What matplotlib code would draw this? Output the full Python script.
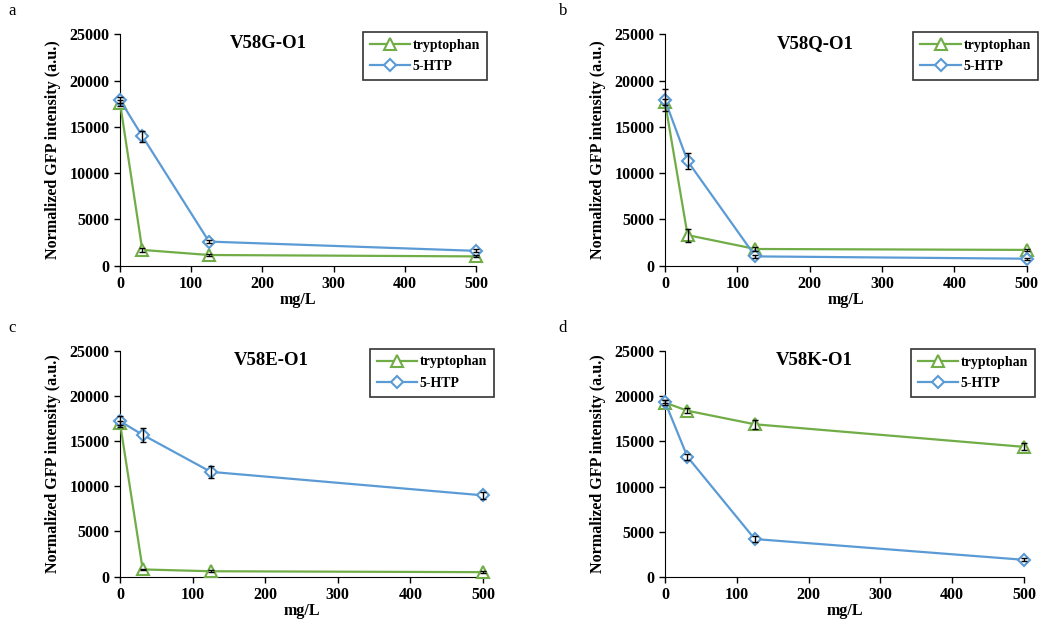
import matplotlib
matplotlib.use("Agg")
import matplotlib.pyplot as plt
from matplotlib.lines import Line2D

plt.rcParams['font.family'] = ['Liberation Serif', 'DejaVu Serif']

conc = [0, 31.25, 125, 500]
titles = ["V58G-O1", "V58Q-O1", "V58E-O1", "V58K-O1"]
letters = ["a", "b", "c", "d"]

trp_a = [17600, 1700, 1150, 1000]
htp_a = [17900, 14000, 2600, 1600]
trp_a_err = [300, 200, 100, 100]
htp_a_err = [300, 600, 200, 150]

trp_b = [17700, 3300, 1800, 1700]
htp_b = [17900, 11300, 1000, 750]
trp_b_err = [300, 700, 200, 150]
htp_b_err = [1200, 900, 200, 100]

trp_c = [17000, 800, 600, 500]
htp_c = [17200, 15700, 11600, 9000]
trp_c_err = [200, 100, 100, 100]
htp_c_err = [600, 800, 700, 400]

trp_d = [19300, 18400, 16900, 14400]
htp_d = [19400, 13300, 4200, 1900]
trp_d_err = [300, 300, 500, 400]
htp_d_err = [200, 300, 300, 150]

panels = [
    (trp_a, trp_a_err, htp_a, htp_a_err),
    (trp_b, trp_b_err, htp_b, htp_b_err),
    (trp_c, trp_c_err, htp_c, htp_c_err),
    (trp_d, trp_d_err, htp_d, htp_d_err),
]

GREEN = "#70AD47"
BLUE = "#5B9BD5"

fig = plt.figure(figsize=(10.5, 6.31), dpi=100)

rects = [
    (0.1143, 0.579, 0.339, 0.3667),
    (0.6333, 0.579, 0.3444, 0.3667),
    (0.1143, 0.0861, 0.3457, 0.358),
    (0.6333, 0.0856, 0.342, 0.358),
]
letter_pos = [(0.008, 0.983), (0.532, 0.983), (0.008, 0.48), (0.532, 0.48)]

for i, (rect, (trp, trpe, htp, htpe)) in enumerate(zip(rects, panels)):
    ax = fig.add_axes(rect)
    for ys, es, col, mk, ms, z in [(trp, trpe, GREEN, "^", 8, 3), (htp, htpe, BLUE, "D", 6.5, 4)]:
        ax.plot(conc, ys, color=col, lw=1.6, marker=mk, ms=ms, mfc="white", mec=col,
                mew=1.5, zorder=z, clip_on=False)
        eb = ax.errorbar(conc, ys, yerr=es, fmt="none", ecolor="black", elinewidth=1,
                         capsize=2, zorder=z + 2)
        for art in eb.lines[1] + eb.lines[2]:
            art.set_clip_on(False)
    ax.set_xlim(0, 500)
    ax.set_ylim(0, 25000)
    ax.set_xticks([0, 100, 200, 300, 400, 500])
    ax.set_yticks([0, 5000, 10000, 15000, 20000, 25000])
    ax.spines['top'].set_visible(False)
    ax.spines['right'].set_visible(False)
    ax.spines['left'].set_color('black')
    ax.spines['bottom'].set_color('black')
    ax.tick_params(direction='out', length=4, width=1, labelsize=11.5)
    for lab in ax.get_xticklabels() + ax.get_yticklabels():
        lab.set_fontweight('bold')
    ax.set_xlabel("mg/L", fontsize=11.5, fontweight='bold', labelpad=0)
    ax.set_ylabel("Normalized GFP intensity (a.u.)", fontsize=11.6, fontweight='bold', labelpad=6)
    ax.text(0.416, 0.995, titles[i], transform=ax.transAxes, ha='center', va='top',
            fontsize=13.5, fontweight='bold')
    handles = [
        Line2D([], [], color=GREEN, lw=1.6, marker="^", ms=8, mfc="white", mec=GREEN, mew=1.5),
        Line2D([], [], color=BLUE, lw=1.6, marker="D", ms=6.5, mfc="white", mec=BLUE, mew=1.5),
    ]
    leg = ax.legend(handles, ["tryptophan", "5-HTP"], loc='upper right',
                    bbox_to_anchor=(1.031, 1.01), borderaxespad=0, frameon=True,
                    fancybox=False, edgecolor='black', prop={'weight': 'bold', 'size': 10},
                    handlelength=2.9, borderpad=0.5, labelspacing=0.6, handletextpad=0.2)
    leg.get_frame().set_linewidth(1.2)
    fig.text(letter_pos[i][0], letter_pos[i][1], letters[i], fontsize=12, va='center')

fig.savefig("out.png", dpi=100)
